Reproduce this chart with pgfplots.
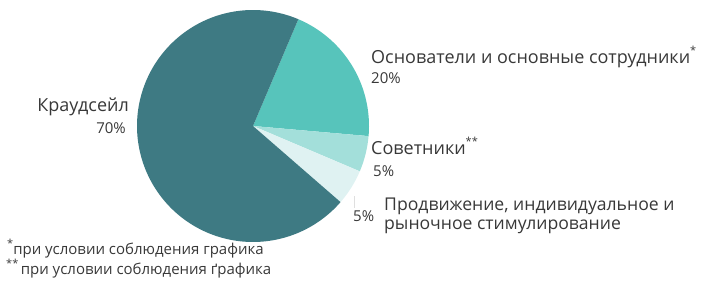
\documentclass[border=0pt]{standalone}
\usepackage{pgfplots}
\pgfplotsset{compat=1.18}
\usepackage{fontspec}
\setmainfont{Open Sans}
\definecolor{cCrowd}{HTML}{3E7A83}
\definecolor{cFound}{HTML}{57C4BB}
\definecolor{cAdv}{HTML}{A3DFDA}
\definecolor{cPromo}{HTML}{DFF2F2}
\definecolor{txt}{HTML}{383838}
% shares in percent
\def\pFound{20}\def\pAdv{5}\def\pPromo{5}\def\pCrowd{70}
\def\cx{253}\def\cy{160}\def\R{116}
\pgfmathsetmacro{\aA}{67}
\pgfmathsetmacro{\aB}{\aA-3.6*\pFound}
\pgfmathsetmacro{\aC}{\aB-3.6*\pAdv}
\pgfmathsetmacro{\aD}{\aC-3.6*\pPromo}
\pgfmathsetmacro{\aE}{\aD-3.6*\pCrowd}
\newcommand{\lblf}{\fontsize{18}{21}\selectfont}
\newcommand{\lblg}{\fontsize{17.6}{21}\selectfont}
\newcommand{\pctf}{\fontsize{15}{18}\selectfont}
\newcommand{\fnf}{\fontsize{15}{18}\selectfont}
\newcommand{\astr}[1]{\raisebox{0.5em}{\fontsize{11}{11}\selectfont #1}}
\begin{document}
\begin{tikzpicture}
\begin{axis}[hide axis, scale only axis, width=717pt, height=286pt,
  xmin=0, xmax=717, ymin=0, ymax=286, clip=false]
\path (0,0) (717,286);
\addplot[fill=cFound, draw=none, domain=\aB:\aA, samples=60, variable=\t]
  ({\cx+\R*cos(\t)},{\cy+\R*sin(\t)}) -- (\cx,\cy) -- cycle;
\addplot[fill=cAdv, draw=none, domain=\aC:\aB, samples=20, variable=\t]
  ({\cx+\R*cos(\t)},{\cy+\R*sin(\t)}) -- (\cx,\cy) -- cycle;
\addplot[fill=cPromo, draw=none, domain=\aD:\aC, samples=20, variable=\t]
  ({\cx+\R*cos(\t)},{\cy+\R*sin(\t)}) -- (\cx,\cy) -- cycle;
\addplot[fill=cCrowd, draw=none, domain=\aE:\aD, samples=150, variable=\t]
  ({\cx+\R*cos(\t)},{\cy+\R*sin(\t)}) -- (\cx,\cy) -- cycle;
\addplot[draw=gray!25, line width=0.6pt] coordinates {(354,78) (354,90)};
% labels
\node[anchor=base west, inner sep=0, text=txt] at (371,222) {\lblf Основатели и основные сотрудники\astr{*}};
\node[anchor=base west, inner sep=0, text=txt] at (371,202) {\pctf 20\%};
\node[anchor=base west, inner sep=0, text=txt] at (371,131) {\lblf Советники\astr{**}};
\node[anchor=base west, inner sep=0, text=txt] at (373,109) {\pctf 5\%};
\node[anchor=base west, inner sep=0, text=txt] at (384,75) {\lblg Продвижение, индивидуальное и};
\node[anchor=base west, inner sep=0, text=txt] at (384,56) {\lblg рыночное стимулирование};
\node[anchor=base west, inner sep=0, text=txt] at (353,64) {\pctf 5\%};
\node[anchor=base east, inner sep=0, text=txt] at (129,174.5) {\lblf Краудсейл};
\node[anchor=base east, inner sep=0, text=txt] at (126,152) {\pctf 70\%};
\node[anchor=base west, inner sep=0, text=txt] at (7,31) {\fnf\astr{*}при условии соблюдения графика};
\node[anchor=base west, inner sep=0, text=txt] at (6,11) {\fnf\astr{**}\,при условии соблюдения ґрафика};
\end{axis}
\end{tikzpicture}
\end{document}
